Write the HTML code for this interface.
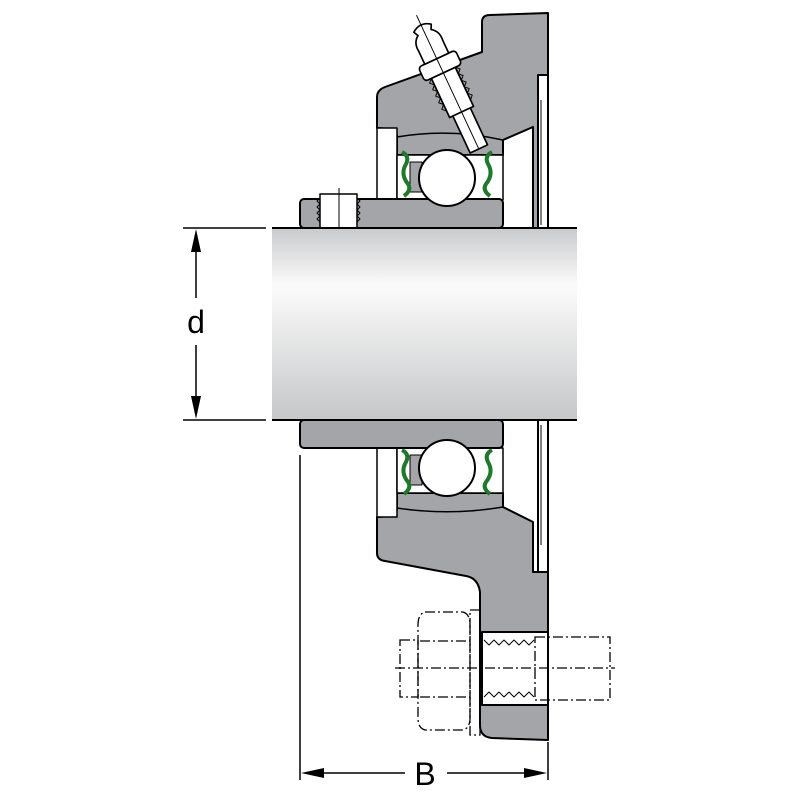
<!DOCTYPE html>
<html><head><meta charset="utf-8"><style>html,body{margin:0;padding:0;background:#fff}svg{display:block}</style></head>
<body>
<svg width="800" height="800" viewBox="0 0 800 800" xmlns="http://www.w3.org/2000/svg" font-family="'Liberation Sans', sans-serif">
<defs>
<linearGradient id="sh" x1="0" y1="0" x2="0" y2="1">
<stop offset="0" stop-color="#c9cacc"/><stop offset="0.3" stop-color="#fbfbfb"/><stop offset="1" stop-color="#c6c7c9"/>
</linearGradient>
</defs>
<g stroke="#000" stroke-width="2" stroke-linejoin="round">
<!-- upper housing -->
<path d="M377,128 L377,97 Q377,90 385,87 L482,52 L482,22 Q482,15 490,15 L548,13 L548,228 L533,228 L533,127 L503,140 L503,155 L397,155 L397,135 Q390,128 377,128 Z" fill="#a3a5a8"/>
<path d="M397,137 Q450,128 503,140" fill="none" stroke-width="1.5"/>
<rect x="538" y="75" width="10" height="153" fill="#fff"/>
<line x1="541" y1="100" x2="541" y2="225" stroke-width="1"/>
<rect x="377" y="128" width="20" height="72" fill="#fff" stroke-width="1.5"/>
<rect x="397" y="155" width="106" height="45" fill="#fff" stroke-width="1.5"/>
<rect x="410" y="162" width="12" height="30" fill="#a3a5a8" stroke-width="1"/>
<path d="M402,152 q8,4 4,12 q-6,10 2,20 q4,6 -4,12" fill="none" stroke="#1e7a2a" stroke-width="4"/>
<path d="M492,152 q-8,4 -4,12 q6,10 -2,20 q-4,6 4,12" fill="none" stroke="#1e7a2a" stroke-width="4"/>
<!-- lower housing -->
<path d="M377,517 Q390,517 397,510 L397,493 L503,493 L503,507 L533,522 L533,572 L548,572 L548,740 L492,738 Q480,737 480,725 L480,592 Q478,578 466,576 L385,561 Q377,560 377,553 Z" fill="#a3a5a8"/>
<path d="M397,508 Q450,516 503,507" fill="none" stroke-width="1.5"/>
<rect x="538" y="420" width="10" height="152" fill="#fff"/>
<line x1="541" y1="425" x2="541" y2="545" stroke-width="1"/>
<rect x="377" y="448" width="20" height="69" fill="#fff" stroke-width="1.5"/>
<rect x="397" y="448" width="106" height="45" fill="#fff" stroke-width="1.5"/>
<rect x="410" y="455" width="12" height="30" fill="#a3a5a8" stroke-width="1"/>
<path d="M402,450 q8,4 4,12 q-6,10 2,20 q4,6 -4,12" fill="none" stroke="#1e7a2a" stroke-width="4"/>
<path d="M492,450 q-8,4 -4,12 q6,10 -2,20 q-4,6 4,12" fill="none" stroke="#1e7a2a" stroke-width="4"/>
<!-- inner rings -->
<rect x="300" y="199" width="203" height="29" rx="4" fill="#a3a5a8"/>
<rect x="300" y="420" width="203" height="28" rx="4" fill="#a3a5a8"/>
<!-- balls -->
<circle cx="447" cy="178" r="28" fill="#fff"/>
<circle cx="447" cy="468" r="28" fill="#fff"/>
<!-- set screw -->
<rect x="320" y="194" width="37" height="34" fill="#fff" stroke-width="1.5"/>
<path d="M320,198 l-3,3 3,3 -3,3 3,3 -3,3 3,3 -3,3 3,3 M357,198 l3,3 -3,3 3,3 -3,3 3,3 -3,3 3,3 -3,3" fill="none" stroke-width="1"/>
<line x1="339" y1="188" x2="339" y2="234" stroke-width="1"/>
<!-- shaft -->
<rect x="272" y="228" width="305" height="192" fill="url(#sh)" stroke="none"/>
<line x1="272" y1="228" x2="577" y2="228"/>
<line x1="272" y1="420" x2="577" y2="420"/>
<!-- grease nipple -->
<g transform="translate(456,100) rotate(-25) scale(1.2)" fill="#fff" stroke-width="1.4">
<rect x="-8" y="10" width="16" height="35"/>
<rect x="-11" y="-25" width="22" height="36"/>
<path d="M-11,-25 l-3,3 3,3 -3,3 3,3 -3,3 3,3 -3,3 3,3 -3,3 3,3 M11,-25 l3,3 -3,3 3,3 -3,3 3,3 -3,3 3,3 -3,3 3,3 -3,3" fill="none" stroke-width="0.8"/>
<rect x="-17" y="-38" width="34" height="13" rx="3"/>
<path d="M-11,-38 L-11,-50 Q-12,-58 -6,-62 L-8,-66 Q0,-72 8,-66 L6,-62 Q12,-58 11,-50 L11,-38 Z"/>
<line x1="0" y1="-78" x2="0" y2="45" stroke-width="0.8"/>
</g>
<!-- bolt hole -->
<rect x="482" y="632" width="66" height="73" fill="#fff"/>
<path d="M484,640 l5,5 5,-5 5,5 5,-5 5,5 5,-5 5,5 5,-5 5,5 5,-5 M484,697 l5,-5 5,5 5,-5 5,5 5,-5 5,5 5,-5 5,5 5,-5 5,5" fill="none" stroke-width="1"/>
</g>
<!-- bolt dash-dot -->
<g fill="none" stroke="#000" stroke-width="1.3" stroke-dasharray="10,3,2,3">
<rect x="470" y="610" width="10" height="125"/>
<path d="M425,612 L463,612 Q470,614 470,625 L470,718 Q470,728 463,730 L425,730 Q418,728 418,718 L418,625 Q418,614 425,612 Z"/>
<line x1="420" y1="641" x2="470" y2="641"/>
<line x1="420" y1="697" x2="470" y2="697"/>
<rect x="400" y="640" width="18" height="57"/>
<rect x="535" y="637" width="75" height="63"/>
<line x1="395" y1="668" x2="615" y2="668"/>
</g>
<!-- dimensions -->
<g stroke="#000" stroke-width="1.5">
<line x1="183" y1="228" x2="266" y2="228"/>
<line x1="183" y1="420" x2="266" y2="420"/>
<line x1="196" y1="240" x2="196" y2="298"/>
<line x1="196" y1="345" x2="196" y2="408"/>
<line x1="300" y1="455" x2="300" y2="780"/>
<line x1="548" y1="742" x2="548" y2="780"/>
<line x1="312" y1="773" x2="405" y2="773"/>
<line x1="447" y1="773" x2="536" y2="773"/>
</g>
<path d="M196,229 L191,252 L201,252 Z M196,419 L191,396 L201,396 Z M301,773 L324,768 L324,778 Z M547,773 L524,768 L524,778 Z" fill="#000"/>
<text x="196" y="333" font-size="32" text-anchor="middle">d</text>
<text x="425" y="785" font-size="32" text-anchor="middle">B</text>
</svg>
</body></html>
